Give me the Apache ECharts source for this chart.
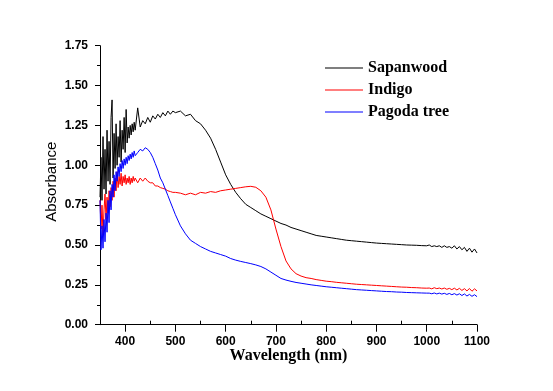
<!DOCTYPE html>
<html>
<head>
<meta charset="utf-8">
<script src="https://cdn.jsdelivr.net/npm/echarts@6/dist/echarts.min.js"></script>
<style>
html,body{margin:0;padding:0;background:#fff;}
#chart{width:553px;height:391px;}
</style>
</head>
<body>
<div id="chart"></div>
<script>
// Wavelengths (nm)
const wavelengths = [
  350,352,354,356,358,360,362,364,366,368,370,372,374,376,378,380,382,384,386,388,390,392,394,396,398,400,402,404,406,408,410,412,414,416,418,420,
  425,430,435,440,445,450,455,460,465,470,475,480,485,490,495,500,
  510,520,530,540,550,560,570,580,590,600,610,620,630,640,650,660,670,680,690,700,710,720,730,740,750,760,770,780,790,800,810,820,830,840,850,860,870,880,890,900,910,920,930,940,950,960,970,980,990,1000,
  1005,1010,1015,1020,1025,1030,1035,1040,1045,1050,1055,1060,1065,1070,1075,1080,1085,1090,1095,1100
];

const sapanwood = [
  0.80,1.05,0.78,1.18,0.85,1.10,0.82,1.22,0.90,1.15,0.88,1.30,1.41,0.92,1.20,0.98,1.26,1.00,1.18,1.05,1.28,1.02,1.22,1.10,1.30,1.08,1.35,1.14,1.24,1.17,1.25,1.19,1.26,1.21,1.27,1.22,
  1.36,1.24,1.28,1.26,1.30,1.27,1.31,1.29,1.32,1.30,1.33,1.31,1.34,1.32,1.34,1.33,
  1.34,1.31,1.32,1.28,1.26,1.22,1.17,1.10,1.02,0.94,0.88,0.83,0.79,0.755,0.735,0.715,0.695,0.68,0.665,0.65,0.635,0.625,0.61,0.60,0.59,0.58,0.57,0.56,0.555,0.55,0.545,0.54,0.535,0.53,0.527,0.524,0.521,0.518,0.515,0.512,0.51,0.508,0.506,0.504,0.502,0.50,0.499,0.498,0.496,0.495,
  0.50,0.49,0.495,0.49,0.495,0.485,0.495,0.485,0.49,0.48,0.495,0.475,0.49,0.47,0.485,0.46,0.48,0.455,0.475,0.45
];

const indigo = [
  0.78,0.60,0.75,0.56,0.72,0.82,0.66,0.80,0.70,0.84,0.74,0.86,0.78,0.90,0.80,0.92,0.84,0.96,0.86,0.93,0.88,0.95,0.87,0.93,0.89,0.94,0.88,0.92,0.89,0.93,0.88,0.92,0.89,0.93,0.90,0.92,
  0.89,0.92,0.90,0.92,0.90,0.89,0.89,0.87,0.87,0.86,0.855,0.85,0.84,0.835,0.83,0.83,
  0.825,0.815,0.825,0.815,0.83,0.825,0.835,0.83,0.84,0.845,0.85,0.855,0.86,0.865,0.868,0.862,0.84,0.80,0.72,0.60,0.49,0.40,0.35,0.32,0.305,0.295,0.29,0.283,0.278,0.273,0.27,0.266,0.263,0.26,0.257,0.254,0.252,0.25,0.248,0.246,0.244,0.242,0.24,0.238,0.236,0.235,0.233,0.232,0.23,0.229,
  0.23,0.225,0.232,0.226,0.23,0.224,0.23,0.222,0.228,0.22,0.229,0.218,0.228,0.215,0.226,0.212,0.227,0.21,0.225,0.212
];

const pagodaTree = [
  0.78,0.47,0.62,0.48,0.66,0.52,0.70,0.58,0.78,0.64,0.84,0.72,0.88,0.80,0.94,0.84,0.96,0.90,0.99,0.93,1.01,0.96,1.03,0.98,1.04,1.00,1.05,1.01,1.06,1.03,1.07,1.04,1.08,1.05,1.09,1.06,
  1.08,1.10,1.09,1.11,1.10,1.08,1.05,1.01,0.97,0.92,0.89,0.85,0.81,0.77,0.73,0.69,
  0.62,0.57,0.53,0.51,0.49,0.475,0.46,0.45,0.44,0.43,0.415,0.405,0.397,0.39,0.383,0.375,0.365,0.35,0.33,0.31,0.29,0.28,0.272,0.265,0.26,0.255,0.25,0.246,0.242,0.238,0.235,0.232,0.229,0.226,0.223,0.22,0.218,0.216,0.214,0.212,0.21,0.208,0.207,0.205,0.204,0.202,0.201,0.20,0.199,0.198,
  0.198,0.194,0.199,0.193,0.198,0.192,0.197,0.19,0.196,0.188,0.195,0.186,0.194,0.183,0.193,0.18,0.19,0.178,0.188,0.176
];

const seriesNames = ['Sapanwood', 'Indigo', 'Pagoda tree'];
const xMajorTicks = [400,500,600,700,800,900,1000,1100];
const xMinorTicks = [450,550,650,750,850,950,1050];

function pairs(ys){ return wavelengths.map((x,i)=>[x, ys[i]]); }

const chart = echarts.init(document.getElementById('chart'), null, {renderer:'canvas'});
const sans = 'Liberation Sans, Arial, sans-serif';
const serif = 'Liberation Serif, Times New Roman, serif';

chart.setOption({
  animation: false,
  backgroundColor: '#ffffff',
  grid: {left: 100, right: 76, top: 45.7, bottom: 66.3},
  legend: {
    orient: 'vertical',
    left: 325,
    top: 60,
    padding: 0,
    itemGap: 6,
    itemWidth: 38,
    itemHeight: 1.2,
    icon: 'rect',
    textStyle: {fontFamily: serif, fontWeight: 'bold', fontSize: 16, lineHeight: 16, color: '#000'},
    data: seriesNames
  },
  xAxis: [{
    type: 'value',
    min: 350, max: 1100, interval: 50,
    name: 'Wavelength (nm)',
    nameLocation: 'middle',
    nameGap: 23,
    nameMoveOverlap: false,
    nameTextStyle: {fontFamily: serif, fontWeight: 'bold', fontSize: 16, color: '#000'},
    axisLine: {show: true, onZero: false, lineStyle: {color: '#000', width: 1}},
    axisTick: {show: true, length: 7, customValues: xMajorTicks, lineStyle: {color: '#000'}},
    axisLabel: {customValues: xMajorTicks, margin: 11, fontFamily: sans, fontWeight: 'bold', fontSize: 12, color: '#000', formatter: v => String(v)},
    splitLine: {show: false}
  }, {
    type: 'value',
    min: 350, max: 1100, interval: 50,
    axisLine: {show: false},
    axisTick: {show: true, length: 4, customValues: xMinorTicks, lineStyle: {color: '#000'}},
    axisLabel: {show: false},
    splitLine: {show: false}
  }],
  yAxis: {
    type: 'value',
    min: 0, max: 1.75, interval: 0.25,
    name: 'Absorbance',
    nameLocation: 'middle',
    nameGap: 41,
    nameMoveOverlap: false,
    nameTextStyle: {fontFamily: sans, fontSize: 15, color: '#000', padding: [0, 0, 0, 7]},
    axisLine: {show: true, onZero: false, lineStyle: {color: '#000', width: 1}},
    axisTick: {show: true, length: 5, lineStyle: {color: '#000'}},
    minorTick: {show: true, splitNumber: 2, length: 3, lineStyle: {color: '#000'}},
    axisLabel: {margin: 12, fontFamily: sans, fontWeight: 'bold', fontSize: 12, color: '#000', formatter: v => v.toFixed(2)},
    splitLine: {show: false},
    minorSplitLine: {show: false}
  },
  series: [
    {name: seriesNames[0], type: 'line', data: pairs(sapanwood), showSymbol: false, symbol: 'none', color: '#000000', lineStyle: {width: 1, color: '#000000'}},
    {name: seriesNames[1], type: 'line', data: pairs(indigo), showSymbol: false, symbol: 'none', color: '#ff0000', lineStyle: {width: 1, color: '#ff0000'}},
    {name: seriesNames[2], type: 'line', data: pairs(pagodaTree), showSymbol: false, symbol: 'none', color: '#0000ff', lineStyle: {width: 1, color: '#0000ff'}}
  ]
});
</script>
</body>
</html>
